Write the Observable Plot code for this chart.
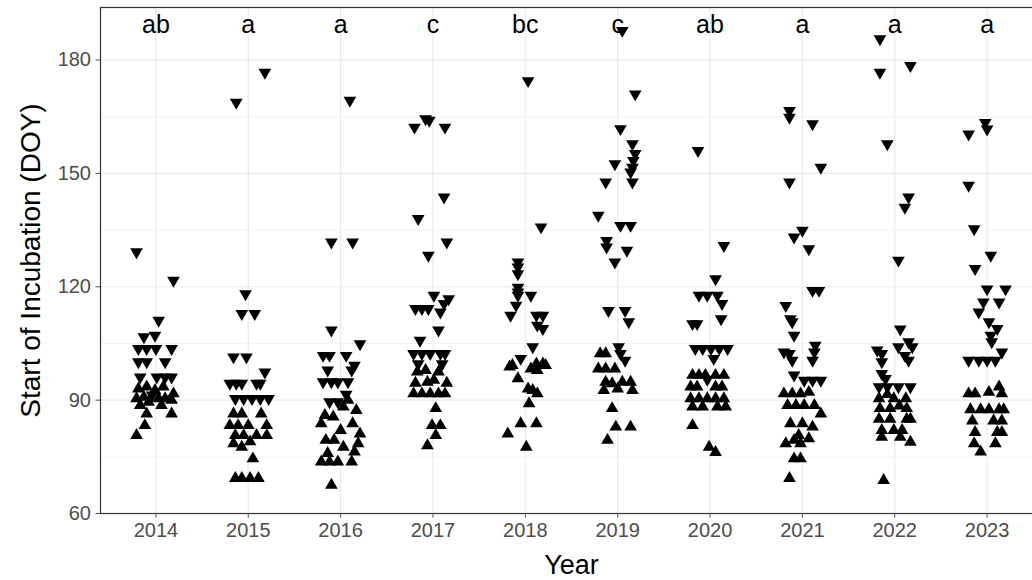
<!DOCTYPE html>
<html><head><meta charset="utf-8">
<script src="https://cdn.jsdelivr.net/npm/d3@7"></script>
<script src="https://cdn.jsdelivr.net/npm/@observablehq/plot@0.6"></script>
<style>html,body{margin:0;padding:0;background:#fff;overflow:hidden;} svg{overflow:hidden;}</style>
</head><body><div id="chart"></div>
<script>
const years = [2014, 2015, 2016, 2017, 2018, 2019, 2020, 2021, 2022, 2023];
const letters = ["ab", "a", "a", "c", "bc", "c", "ab", "a", "a", "a"];
const yTicks = [60, 90, 120, 150, 180];
const yMinor = [75, 105, 135, 165];

// [start of incubation (DOY), horizontal jitter in years]
const up2014 = [[93,-0.19],[93.5,-0.10],[92.6,-0.01],[93.5,0.08],[91.7,0.19],[90.4,-0.21],[90.8,-0.13],[90.4,0.03],[90.4,0.10],[89.5,-0.08],[90,0.17],[88.6,-0.17],[88.6,0.06],[86.4,-0.10],[86.4,0.17],[83.3,-0.12],[80.7,-0.21]];
const down2014 = [[129.2,-0.21],[121.7,0.19],[111.1,0.03],[106.7,-0.13],[107.1,-0.01],[103.6,-0.19],[103.6,-0.10],[103.6,0],[103.6,0.17],[100.1,-0.19],[100.1,-0.10],[100.1,0.10],[96.1,-0.17],[96.1,0.01],[96.1,0.10],[96.1,0.17],[91.3,-0.04]];
const up2015 = [[86.4,-0.16],[86.4,-0.07],[86.4,0.14],[83.3,-0.20],[83.3,-0.11],[83.3,0],[83.3,0.20],[80.7,-0.14],[80.7,-0.05],[80.7,0.09],[80.7,0.20],[77.6,-0.07],[74.5,0.05],[69.3,-0.14],[69.3,-0.07],[69.3,0.02],[69.3,0.11],[78.5,-0.16],[79,0.02]];
const down2015 = [[176.7,0.18],[168.8,-0.13],[118.1,-0.03],[112.9,-0.07],[112.9,0.07],[101.4,-0.16],[101.4,-0.02],[97.4,0.18],[94.4,-0.20],[94.4,-0.13],[94.4,-0.07],[94.4,0.09],[94.4,0.13],[90.4,-0.14],[90.4,-0.05],[90.4,0.04],[90.4,0.13],[90.4,0.22]];
const up2016 = [[83.8,-0.21],[85.6,-0.08],[88.2,0.03],[90,0.08],[87.3,0.17],[83.8,0.13],[81.1,0.21],[78.5,0.19],[79.4,-0.16],[79.4,-0.07],[77.6,0.03],[76.3,0.15],[75.9,-0.14],[73.7,-0.21],[73.7,-0.12],[73.7,-0.03],[73.7,0.12],[67.5,-0.10],[86,-0.17],[82,0.0]];
const down2016 = [[169.3,0.10],[131.8,-0.10],[131.8,0.13],[108.5,-0.10],[104.9,0.21],[101.8,-0.19],[101.8,-0.12],[101.8,0.06],[99.2,0.15],[97.9,-0.14],[97.9,0.12],[94.8,-0.19],[94.8,-0.10],[94.8,-0.03],[94.8,0.08],[89.5,-0.12],[89.5,-0.03],[91.5,0.06]];
const up2017 = [[97.5,-0.17],[97.9,-0.08],[97.5,0.06],[94.5,0.15],[94.5,-0.19],[94.8,-0.06],[95.3,0.01],[91.7,-0.21],[91.7,-0.12],[91.7,-0.03],[91.7,0.06],[91.7,0.13],[87.8,0.03],[83.3,-0.01],[83.3,0.08],[80.7,0.03],[78.0,-0.06]];
const down2017 = [[164.4,-0.08],[164.0,-0.04],[162.2,-0.20],[162.2,0.13],[143.7,0.12],[138.0,-0.16],[131.8,0.15],[128.3,-0.05],[117.7,0.01],[116.8,0.17],[115.5,0.12],[114.2,-0.19],[114.2,-0.12],[114.2,-0.05],[113.3,0.08],[108.5,0.06],[105.8,-0.14],[102.3,-0.21],[102.3,-0.12],[102.3,-0.03],[102.3,0.08],[102.3,0.13],[99.6,-0.16],[99.6,0.10]];
const up2018 = [[98.8,-0.17],[99.2,-0.14],[99.6,0.12],[99.6,0.19],[99.2,0.22],[98.3,0.06],[97.9,0.13],[95.7,-0.08],[93.0,0.03],[92.6,0.08],[91.7,0.13],[89.1,0.04],[83.8,-0.05],[83.8,0.12],[81.1,-0.19],[77.6,0.01]];
const down2018 = [[174.5,0.03],[135.8,0.17],[126.5,-0.08],[125.2,-0.08],[123.4,-0.08],[119.8,-0.08],[118.6,-0.08],[117.7,-0.08],[117.7,0.06],[115.1,-0.10],[112.4,-0.16],[112.4,0.12],[112.4,0.19],[109.8,0.13],[108.9,0.19],[104.1,0.08],[101.0,-0.05]];
const up2019 = [[102.3,-0.19],[102.3,-0.13],[98.3,-0.21],[98.3,-0.13],[98.3,-0.03],[94.8,-0.13],[94.4,-0.06],[94.8,0.05],[94.8,0.14],[92.6,-0.15],[92.6,0.16],[93,0.0],[87.8,-0.06],[82.9,-0.02],[82.9,0.14],[79.4,-0.11]];
const down2019 = [[187.8,0.05],[171.0,0.19],[161.8,0.03],[157.8,0.16],[155.2,0.19],[153.4,0.17],[152.5,-0.03],[151.6,0.16],[150.3,0.14],[147.7,0.16],[147.7,-0.13],[138.9,-0.21],[136.2,0.03],[136.2,0.14],[132.2,-0.12],[130.5,-0.12],[129.6,0.10],[126.5,-0.03],[113.7,-0.10],[113.7,0.08],[110.7,0.12],[104.1,0.01],[102.3,0.03],[100.5,0.08]];
const up2020 = [[96.6,-0.19],[96.6,-0.12],[96.6,-0.05],[96.6,0.06],[96.6,0.15],[93.5,-0.21],[93.5,-0.14],[93.5,0.06],[93.5,0.13],[90.4,-0.21],[90.4,-0.12],[90.4,-0.03],[90.4,0.06],[90.4,0.15],[88.2,-0.19],[88.2,-0.08],[88.2,0.08],[88.2,0.17],[83.3,-0.19],[77.6,-0.01],[76.2,0.06]];
const down2020 = [[156.0,-0.13],[130.9,0.15],[122.1,0.06],[117.7,-0.12],[117.7,-0.03],[117.7,0.08],[115.5,0.13],[111.5,0.12],[110.2,-0.19],[110.2,-0.14],[103.6,-0.16],[103.6,-0.08],[103.6,0.01],[103.6,0.10],[103.6,0.19],[101.0,0.04],[95.5,-0.03]];
const up2021 = [[91.7,-0.20],[91.7,-0.11],[91.7,-0.02],[92.1,0.07],[88.6,-0.16],[88.6,-0.07],[88.6,0.02],[88.6,0.13],[86.4,0.20],[83.8,-0.13],[83.8,0.0],[82.9,0.11],[80.7,-0.04],[79.8,0.07],[78.5,-0.18],[79.4,-0.09],[78.5,-0.02],[74.5,-0.09],[74.5,-0.02],[69.3,-0.14]];
const down2021 = [[166.6,-0.14],[164.8,-0.14],[163.1,0.11],[151.6,0.20],[147.7,-0.14],[134.9,0.0],[133.1,-0.09],[130.0,0.07],[119.0,0.11],[119.0,0.18],[115.0,-0.18],[111.5,-0.13],[110.7,-0.11],[107.1,-0.09],[104.5,0.14],[102.7,0.13],[100.5,0.11],[102.7,-0.20],[102.3,-0.14],[100.5,-0.11],[96.6,-0.09],[95.2,0.02],[95.2,0.11],[95.2,0.20]];
const up2022 = [[90.4,-0.17],[90.4,-0.01],[90.4,0.12],[87.8,-0.16],[87.8,-0.05],[87.8,0.13],[85.0,-0.17],[85.0,-0.05],[85.0,0.13],[85.0,0.17],[82.0,-0.14],[82.0,-0.01],[82.0,0.08],[80.2,-0.14],[80.2,0.06],[78.9,0.17],[68.8,-0.12],[91.5,-0.08],[88.5,0.05]];
const down2022 = [[185.6,-0.16],[176.7,-0.16],[178.5,0.17],[157.8,-0.08],[143.7,0.15],[141.0,0.11],[127.0,0.04],[108.8,0.06],[105.4,0.15],[104.1,0.19],[103.2,-0.19],[102.3,-0.14],[100.1,-0.14],[104.1,0.04],[101.8,0.11],[100.5,0.15],[97.0,-0.14],[95.7,-0.10],[93.5,-0.17],[93.5,-0.08],[93.5,0.04],[93.5,0.17]];
const up2023 = [[91.7,-0.20],[92.1,0.02],[93.5,0.13],[91.7,0.16],[91.7,-0.13],[87.5,-0.18],[87.5,-0.07],[87.5,0.02],[87.5,0.13],[87.5,0.18],[84.5,-0.16],[84.5,0.07],[84.5,0.16],[81.5,-0.13],[81.5,0.11],[81.5,0.16],[78.5,-0.14],[78.5,0.09],[76.3,-0.07]];
const down2023 = [[163.4,-0.02],[161.7,0.0],[160.4,-0.20],[146.8,-0.20],[135.3,-0.14],[128.3,0.04],[124.8,-0.13],[119.4,0.0],[119.4,0.20],[115.9,-0.04],[115.9,0.13],[113.3,-0.09],[110.7,0.02],[108.9,0.11],[107.1,0.04],[105.4,0.05],[102.7,0.16],[100.5,-0.20],[100.5,-0.09],[100.5,0.0],[100.5,0.09]];

const upSets = [up2014, up2015, up2016, up2017, up2018, up2019, up2020, up2021, up2022, up2023];
const downSets = [down2014, down2015, down2016, down2017, down2018, down2019, down2020, down2021, down2022, down2023];

const toRows = sets => sets.flatMap((pts, i) => pts.map(([doy, dx]) => ({year: years[i], x: years[i] + dx, doy})));
const upRows = toRows(upSets);
const downRows = toRows(downSets);

// R-style filled triangles (pch 17 / pch 25)
const TRC0 = Math.sqrt(4 * Math.PI / (3 * Math.sqrt(3)));
const TRC1 = TRC0 * Math.sqrt(3) / 2;
const TRC2 = TRC0 / 2;
const triUp = {draw(ctx, size) { const s = Math.sqrt(size / Math.PI);
  ctx.moveTo(0, -TRC0 * s); ctx.lineTo(TRC1 * s, TRC2 * s); ctx.lineTo(-TRC1 * s, TRC2 * s); ctx.closePath(); }};
const triDown = {draw(ctx, size) { const s = Math.sqrt(size / Math.PI);
  ctx.moveTo(0, TRC0 * s); ctx.lineTo(TRC1 * s, -TRC2 * s); ctx.lineTo(-TRC1 * s, -TRC2 * s); ctx.closePath(); }};

const font = "'Liberation Sans', Arial, sans-serif";
const chart = Plot.plot({
  width: 1032, height: 580,
  marginLeft: 100, marginRight: -10, marginTop: 7, marginBottom: 67,
  x: {domain: [years[0] - 0.6, years[years.length - 1] + 0.6], axis: null},
  y: {domain: [60, 193.9], axis: null},
  style: {fontFamily: font, background: "white", overflow: "hidden"},
  marks: [
    Plot.gridY(yMinor, {stroke: "#ebebeb", strokeOpacity: 1, strokeWidth: 0.6}),
    Plot.gridY(yTicks, {stroke: "#ebebeb", strokeOpacity: 1, strokeWidth: 1.2}),
    Plot.gridX(years, {stroke: "#ebebeb", strokeOpacity: 1, strokeWidth: 1.2}),
    Plot.dot(upRows, {x: "x", y: "doy", symbol: triUp, r: 4.7, fill: "black", stroke: "none"}),
    Plot.dot(downRows, {x: "x", y: "doy", symbol: triDown, r: 4.7, fill: "black", stroke: "none"}),
    Plot.text(letters, {x: years, text: d => d, frameAnchor: "top", dy: 17, fontSize: 25, fill: "black", lineAnchor: "middle"}),
    Plot.frame({stroke: "#333333", strokeWidth: 1.2}),
    Plot.axisY(yTicks, {tickSize: 4.5, tickPadding: 5, fontSize: 20, color: "#4d4d4d", label: null}),
    Plot.axisX(years, {tickSize: 4.5, tickPadding: 5, tickFormat: "d", fontSize: 20, color: "#4d4d4d", label: null}),
    Plot.text(["Year"], {x: [d3.mean(years)], frameAnchor: "bottom", dy: 52, fontSize: 27, fill: "black", lineAnchor: "middle"}),
    Plot.text(["Start of Incubation (DOY)"], {frameAnchor: "left", dx: -69, rotate: -90, fontSize: 28, fill: "black", textAnchor: "middle", lineAnchor: "middle"})
  ]
});
document.getElementById("chart").appendChild(chart);
</script>
</body></html>
